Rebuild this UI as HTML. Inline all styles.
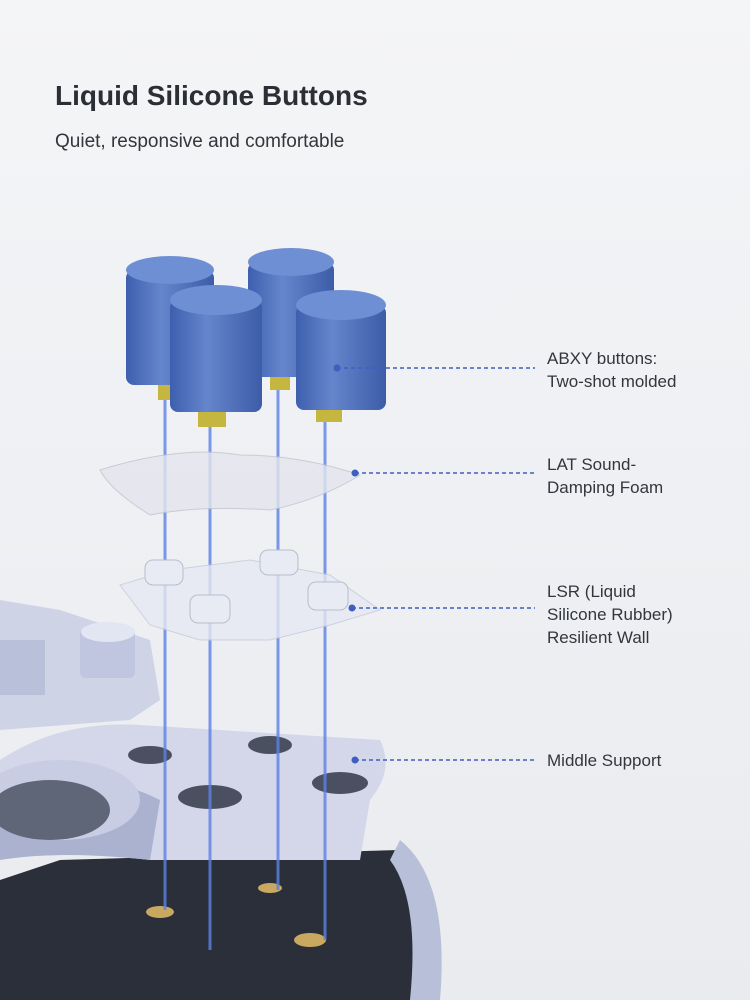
<!DOCTYPE html>
<html><head><meta charset="utf-8"><style>
body{margin:0;width:750px;height:1000px;overflow:hidden;background:#f2f3f5;font-family:"Liberation Sans",sans-serif}
.t{position:absolute;left:55px;top:80px;font-size:28px;font-weight:bold;color:#2b2e35}
.s{position:absolute;left:55px;top:131px;font-size:19px;color:#33363c}
.l{position:absolute;left:547px;font-size:17px;line-height:23px;color:#33363c}
svg{position:absolute;left:0;top:0}
</style></head><body>
<svg width="750" height="1000" viewBox="0 0 750 1000">
<defs>
<linearGradient id="cyl" x1="0" x2="1"><stop offset="0" stop-color="#3e5fae"/><stop offset=".4" stop-color="#6585cc"/><stop offset="1" stop-color="#3d5ca8"/></linearGradient>
<linearGradient id="bg" x1="0" y1="0" x2="0" y2="1"><stop offset="0" stop-color="#f4f5f7"/><stop offset="1" stop-color="#e9ebef"/></linearGradient>
</defs>
<rect width="750" height="1000" fill="url(#bg)"/>
<!-- dark bottom -->
<path d="M60 860 L400 850 L440 1000 L0 1000 L0 880Z" fill="#2b2f3a"/>
<ellipse cx="160" cy="912" rx="14" ry="6" fill="#c9a860"/>
<ellipse cx="310" cy="940" rx="16" ry="7" fill="#c9a860"/>
<ellipse cx="270" cy="888" rx="12" ry="5" fill="#c9a860"/>
<!-- right shell -->
<path d="M400 840 Q450 880 440 1000 L410 1000 Q420 900 390 860Z" fill="#b8bfd8"/>
<!-- left controller body -->
<path d="M0 600 L60 610 L150 640 L160 700 L130 720 L0 730Z" fill="#cfd3e6"/>
<rect x="80" y="628" width="55" height="50" rx="6" fill="#c0c6df"/>
<ellipse cx="108" cy="632" rx="27" ry="10" fill="#e2e5f2"/>
<rect x="0" y="640" width="45" height="55" fill="#b9c0da"/>
<!-- middle support -->
<path d="M0 760 Q60 720 140 725 L380 740 Q395 770 370 800 L360 860 L150 860 Q60 850 0 860Z" fill="#d4d7ea"/>
<path d="M0 800 Q80 760 160 800 L150 860 Q60 850 0 860Z" fill="#aab2cf"/>
<ellipse cx="60" cy="800" rx="80" ry="40" fill="#c8cde3"/>
<ellipse cx="50" cy="810" rx="60" ry="30" fill="#5f6678"/>
<ellipse cx="150" cy="755" rx="22" ry="9" fill="#4a5060"/>
<ellipse cx="270" cy="745" rx="22" ry="9" fill="#4a5060"/>
<ellipse cx="210" cy="797" rx="32" ry="12" fill="#4a5060"/>
<ellipse cx="340" cy="783" rx="28" ry="11" fill="#4a5060"/>
<!-- light beams -->
<g stroke="#5c82e6" stroke-width="3" opacity=".8">
<line x1="165" y1="400" x2="165" y2="910"/><line x1="210" y1="420" x2="210" y2="950"/>
<line x1="278" y1="390" x2="278" y2="890"/><line x1="325" y1="420" x2="325" y2="940"/></g>
<!-- LSR -->
<path d="M120 585 L170 570 L250 560 L330 575 L380 610 L330 625 L270 640 L200 640 L150 625Z" fill="#e6e9f2" opacity=".8" stroke="#c5cad8"/>
<g fill="#e8ebf3" stroke="#b8bdcc"><rect x="145" y="560" width="38" height="25" rx="8"/><rect x="260" y="550" width="38" height="25" rx="8"/><rect x="190" y="595" width="40" height="28" rx="8"/><rect x="308" y="582" width="40" height="28" rx="8"/></g>
<!-- foam -->
<path d="M100 470 Q180 445 240 455 Q300 455 360 475 Q320 500 270 510 Q200 505 150 515 Q110 490 100 470Z" fill="#e4e6ee" opacity=".8" stroke="#bfc3cf"/>
<!-- buttons -->
<g>
<rect x="158" y="380" width="20" height="20" fill="#c5b640"/><rect x="270" y="370" width="20" height="20" fill="#c5b640"/>
<rect x="198" y="405" width="28" height="22" fill="#c5b640"/><rect x="316" y="400" width="26" height="22" fill="#c5b640"/>
<rect x="126" y="270" width="88" height="115" rx="8" fill="url(#cyl)"/><ellipse cx="170" cy="270" rx="44" ry="14" fill="#6f8fd4"/>
<rect x="248" y="262" width="86" height="115" rx="8" fill="url(#cyl)"/><ellipse cx="291" cy="262" rx="43" ry="14" fill="#6f8fd4"/>
<rect x="170" y="300" width="92" height="112" rx="8" fill="url(#cyl)"/><ellipse cx="216" cy="300" rx="46" ry="15" fill="#6f8fd4"/>
<rect x="296" y="305" width="90" height="105" rx="8" fill="url(#cyl)"/><ellipse cx="341" cy="305" rx="45" ry="15" fill="#6f8fd4"/>
</g>
<!-- leader lines -->
<g stroke="#3f5fbf" stroke-width="1.5" stroke-dasharray="4 3" fill="none">
<line x1="337" y1="368" x2="535" y2="368"/><line x1="355" y1="473" x2="535" y2="473"/>
<line x1="352" y1="608" x2="535" y2="608"/><line x1="355" y1="760" x2="535" y2="760"/></g>
<g fill="#3f5fbf"><circle cx="337" cy="368" r="3.5"/><circle cx="355" cy="473" r="3.5"/><circle cx="352" cy="608" r="3.5"/><circle cx="355" cy="760" r="3.5"/></g>
</svg>
<div class="t">Liquid Silicone Buttons</div>
<div class="s">Quiet, responsive and comfortable</div>
<div class="l" style="top:347px">ABXY buttons:<br>Two-shot molded</div>
<div class="l" style="top:453px">LAT Sound-<br>Damping Foam</div>
<div class="l" style="top:580px">LSR (Liquid<br>Silicone Rubber)<br>Resilient Wall</div>
<div class="l" style="top:749px">Middle Support</div>
</body></html>
